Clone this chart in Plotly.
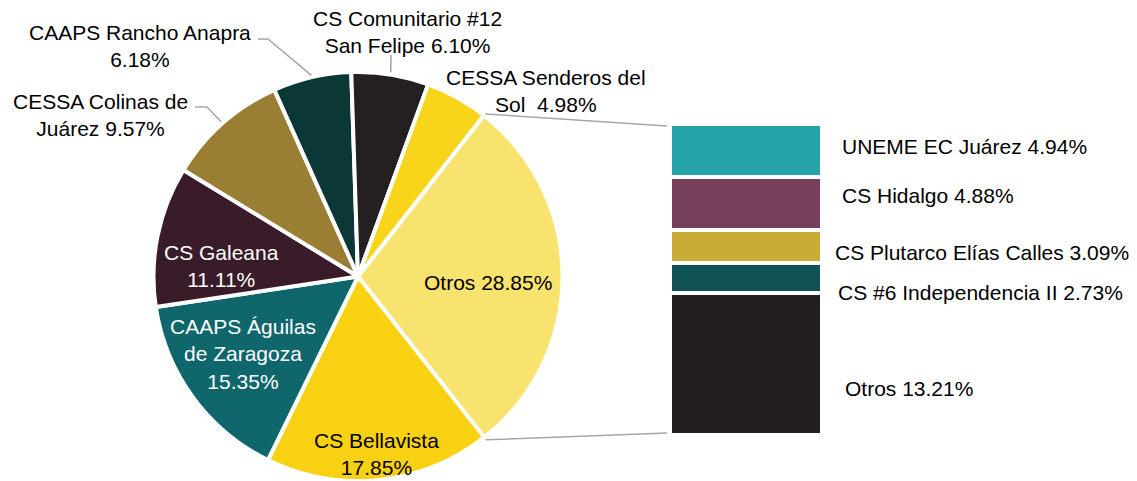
import numpy as np
import plotly.graph_objects as go

# --- data ---
pie_names = [
    "Otros",
    "CS Bellavista",
    "CAAPS Águilas<br>de Zaragoza",
    "CS Galeana",
    "CESSA Colinas de<br>Juárez",
    "CAAPS Rancho Anapra",
    "CS Comunitario #12<br>San Felipe",
    "CESSA Senderos del<br>Sol ",
]
pie_values = [28.85, 17.85, 15.35, 11.11, 9.57, 6.18, 6.10, 4.98]
pie_colors = ["#F7E36D", "#F9D113", "#10676B", "#3A1B2A",
              "#9A7E34", "#0B3737", "#242021", "#F8D51A"]

# bottom -> top of the breakdown bar ("Otros" slice split)
bar_names = ["Otros", "CS #6 Independencia II", "CS Plutarco Elías Calles",
             "CS Hidalgo", "UNEME EC Juárez"]
bar_values = [13.21, 2.73, 3.09, 4.88, 4.94]
bar_colors = ["#231F20", "#115254", "#C9AB37", "#77405D", "#26A3A8"]

# --- layout settings (screen pixels of the 1137x481 window) ---
# the page body has an 8px margin, so the figure starts at (8, 8)
WIN_W, WIN_H = 1137, 481
OFF = 8
W, H = WIN_W - OFF, WIN_H - OFF
FONT = "Arial, Liberation Sans, sans-serif"
FS = 21
LEADER = "#A6A6A6"

PIE_CX, PIE_CY, PIE_R = 358, 277, 205
ROTATION = 38
BAR_X0, BAR_X1, BAR_Y0, BAR_Y1 = 670, 822, 124, 435

# label separators and positions for the pie labels
pie_seps = [" ", "<br>", "<br>", "<br>", " ", "<br>", " ", " "]
pie_label_pos = [(488, 282), (376, 454), (243, 354), (221, 266),
                 (100, 115), (140, 46), (407, 32), (546, 91)]
pie_label_color = ["black", "black", "white", "white",
                   "black", "black", "black", "black"]
# leader lines: label-side points, slice index
leaders = [
    ([(195, 107), (207, 107)], 4),
    ([(258, 39), (268, 39)], 5),
    ([(391, 55)], 6),
]
# bar labels: left x in px, y shift in px from segment middle
bar_label_x = [843, 836, 833, 840, 840]
bar_label_shift = [-25, -15, -6, 8, 4]


def px(x):
    return (x - OFF) / W


def py(y):
    return 1 - (y - OFF) / H


def edge_point(angle_deg, r=PIE_R):
    a = np.radians(angle_deg)
    return PIE_CX + r * np.sin(a), PIE_CY - r * np.cos(a)


total = sum(pie_values)
starts = ROTATION + 360 * np.concatenate([[0], np.cumsum(pie_values)[:-1]]) / total
mids = starts + 180 * np.array(pie_values) / total

fig = go.Figure()

fig.add_trace(go.Pie(
    labels=[n.replace("<br>", " ").strip() for n in pie_names],
    values=pie_values,
    marker=dict(colors=pie_colors, line=dict(color="white", width=4)),
    sort=False,
    direction="clockwise",
    rotation=ROTATION,
    textinfo="none",
    showlegend=False,
    domain=dict(x=[px(PIE_CX - PIE_R), px(PIE_CX + PIE_R)],
                y=[0, py(PIE_CY - PIE_R)]),
))

for name, val, col in zip(bar_names, bar_values, bar_colors):
    fig.add_trace(go.Bar(
        x=[0], y=[val], name=name, width=1,
        marker=dict(color=col, line=dict(color="white", width=4)),
        showlegend=False,
    ))

annotations = []
for name, sep, val, (x, y), c in zip(pie_names, pie_seps, pie_values,
                                      pie_label_pos, pie_label_color):
    annotations.append(dict(
        x=px(x), y=py(y), xref="paper", yref="paper",
        xanchor="center", yanchor="middle",
        text=f"{name}{sep}{val:.2f}%", showarrow=False,
        font=dict(family=FONT, size=FS, color=c), align="center",
    ))

cum = np.cumsum(bar_values)
for name, val, top, lx, sh in zip(bar_names, bar_values, cum,
                                  bar_label_x, bar_label_shift):
    annotations.append(dict(
        x=px(lx), y=top - val / 2, xref="paper", yref="y",
        xanchor="left", yanchor="middle",
        text=f"{name} {val:.2f}%", showarrow=False,
        yshift=sh, font=dict(family=FONT, size=FS, color="black"),
    ))

shapes = []
# connectors from the "Otros" slice to the breakdown bar
for ang, by in [(starts[0], BAR_Y0 + 2), (starts[0] + 360 * pie_values[0] / total, BAR_Y1 - 2)]:
    ex, ey = edge_point(ang, PIE_R + 2)
    shapes.append(dict(type="line", xref="paper", yref="paper",
                       x0=px(ex), y0=py(ey), x1=px(BAR_X0 - 3), y1=py(by),
                       line=dict(color=LEADER, width=1.5)))
# leader lines for outside labels
for pts, idx in leaders:
    ex, ey = edge_point(mids[idx], PIE_R + 2)
    allpts = pts + [(ex, ey)]
    path = "M " + " L ".join(f"{px(a):.5f},{py(b):.5f}" for a, b in allpts)
    shapes.append(dict(type="path", xref="paper", yref="paper", path=path,
                       line=dict(color=LEADER, width=1.5)))

fig.update_layout(
    width=W, height=H,
    margin=dict(l=0, r=0, t=0, b=0),
    paper_bgcolor="white", plot_bgcolor="white",
    barmode="stack", bargap=0,
    xaxis=dict(domain=[px(BAR_X0), px(BAR_X1)], range=[-0.5, 0.5], visible=False, fixedrange=True),
    yaxis=dict(domain=[py(BAR_Y1), py(BAR_Y0)], range=[0, sum(bar_values)], visible=False, fixedrange=True),
    annotations=annotations,
    shapes=shapes,
    font=dict(family=FONT),
)

fig.write_html("out.html")
